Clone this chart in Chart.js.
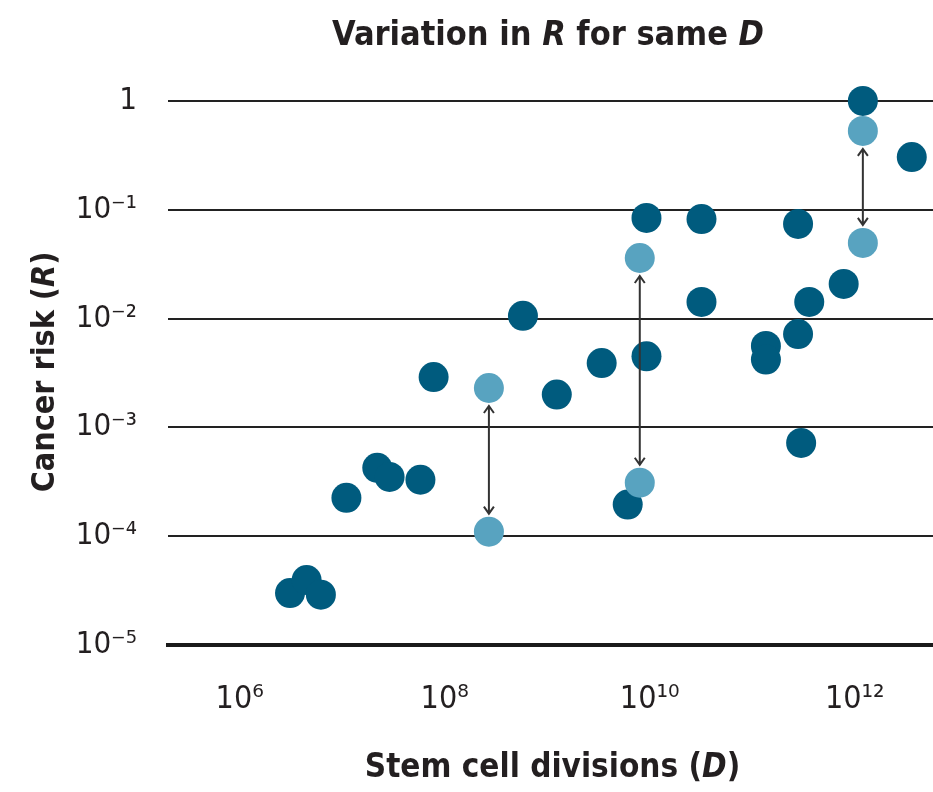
<!DOCTYPE html>
<html>
<head>
<meta charset="utf-8">
<script src="https://cdn.jsdelivr.net/npm/chart.js@4.4.0/dist/chart.umd.min.js"></script>
<style>
  html, body { margin: 0; padding: 0; background: #fff; }
  #wrap { width: 933px; height: 792px; }
</style>
</head>
<body>
<div id="wrap"><canvas id="chart" width="933" height="792"></canvas></div>
<script>
// stem cell divisions (D) and cancer risk (R) for each tissue
const tissueD = [3.1e6, 4.5e6, 6.2e6, 1.1e7, 2.2e7, 2.9e7, 5.8e7, 7.8e7, 5.8e8, 1.24e9,
                 3.4e9, 6.1e9, 9.3e9, 9.3e9, 3.2e10, 3.2e10, 1.36e11, 1.36e11, 2.8e11, 2.8e11,
                 3.0e11, 3.6e11, 7.8e11, 1.2e12, 3.6e12];
const tissueR = [3.0e-5, 3.95e-5, 2.9e-5, 2.25e-4, 4.25e-4, 3.5e-4, 3.3e-4, 2.9e-3, 1.06e-2, 2.0e-3,
                 3.9e-3, 1.95e-4, 8.4e-2, 4.5e-3, 8.2e-2, 1.42e-2, 5.6e-3, 4.2e-3, 7.4e-2, 7.2e-3,
                 7.2e-4, 1.42e-2, 2.08e-2, 1.0, 0.305];

// pairs with the same D but different R
const pairD = [2.7e8, 8.0e9, 1.2e12];
const pairHighR = [2.3e-3, 3.6e-2, 0.53];
const pairLowR = [1.1e-4, 3.1e-4, 4.95e-2];

const yTicks = [1e-5, 1e-4, 1e-3, 1e-2, 1e-1, 1];
const yTickLabels = ['10⁻⁵', '10⁻⁴', '10⁻³', '10⁻²', '10⁻¹', '1'];
const xTicks = [1e6, 1e8, 1e10, 1e12];
const xTickLabels = ['10⁶', '10⁸', '10¹⁰', '10¹²'];

const FONT = "'Liberation Sans Narrow', 'DejaVu Sans Condensed', 'Arial Narrow', sans-serif";
const TEXT = '#231f20';
const DARK = '#005b7e';
const LIGHT = '#58a3c0';
const R = 15;

const pairPoints = [];
pairD.forEach((d, i) => {
  pairPoints.push({ x: d, y: pairHighR[i] });
  pairPoints.push({ x: d, y: pairLowR[i] });
});

// draws a line of text made of plain and italic pieces, centred on (cx, cy)
function richText(ctx, parts, cx, cy, size, rotate) {
  ctx.save();
  ctx.translate(cx, cy);
  if (rotate) ctx.rotate(-Math.PI / 2);
  ctx.fillStyle = TEXT;
  ctx.textBaseline = 'middle';
  ctx.textAlign = 'left';
  let total = 0;
  const widths = parts.map(p => {
    ctx.font = (p[1] ? 'italic ' : '') + 'bold ' + size + 'px ' + FONT;
    const w = ctx.measureText(p[0]).width;
    total += w;
    return w;
  });
  let x = -total / 2;
  parts.forEach((p, i) => {
    ctx.font = (p[1] ? 'italic ' : '') + 'bold ' + size + 'px ' + FONT;
    ctx.fillText(p[0], x, 0);
    x += widths[i];
  });
  ctx.restore();
}

const textPlugin = {
  id: 'labels',
  afterDraw(chart) {
    const ctx = chart.ctx;
    const a = chart.chartArea;
    richText(ctx, [['Variation in ', false], ['R', true], [' for same ', false], ['D', true]], 548, 36, 34, false);
    richText(ctx, [['Stem cell divisions (', false], ['D', true], [')', false]], (a.left + a.right) / 2 + 2, 768, 33, false);
    richText(ctx, [['Cancer risk (', false], ['R', true], [')', false]], 46, 372, 32, true);
  }
};

const arrowPlugin = {
  id: 'arrows',
  afterDatasetsDraw(chart) {
    const ctx = chart.ctx;
    const xs = chart.scales.x, ys = chart.scales.y;
    ctx.save();
    ctx.strokeStyle = '#333';
    ctx.lineWidth = 2;
    pairD.forEach((d, i) => {
      const x = xs.getPixelForValue(d);
      const top = ys.getPixelForValue(pairHighR[i]) + R + 3;
      const bot = ys.getPixelForValue(pairLowR[i]) - R - 3;
      ctx.beginPath();
      ctx.moveTo(x, top);
      ctx.lineTo(x, bot);
      ctx.moveTo(x - 5, top + 7);
      ctx.lineTo(x, top);
      ctx.lineTo(x + 5, top + 7);
      ctx.moveTo(x - 5, bot - 7);
      ctx.lineTo(x, bot);
      ctx.lineTo(x + 5, bot - 7);
      ctx.stroke();
    });
    ctx.restore();
  }
};

new Chart(document.getElementById('chart'), {
  type: 'scatter',
  data: {
    datasets: [
      {
        label: 'Same D',
        data: pairPoints,
        backgroundColor: LIGHT,
        borderWidth: 0,
        pointRadius: R,
        pointHoverRadius: R
      },
      {
        label: 'Tissues',
        data: tissueD.map((d, i) => ({ x: d, y: tissueR[i] })),
        backgroundColor: DARK,
        borderWidth: 0,
        pointRadius: R,
        pointHoverRadius: R
      }
    ]
  },
  options: {
    responsive: false,
    animation: false,
    layout: { autoPadding: false, padding: { top: 75, left: 0, right: 0, bottom: 0 } },
    plugins: {
      legend: { display: false },
      tooltip: { enabled: false }
    },
    scales: {
      x: {
        type: 'logarithmic',
        min: 2e5,
        max: 5.8e12,
        afterBuildTicks: s => { s.ticks = xTicks.map(v => ({ value: v })); },
        afterFit: s => { s.height = 147; s.paddingLeft = 0; s.paddingRight = 0; },
        ticks: {
          autoSkip: false,
          maxRotation: 0,
          padding: 35,
          color: TEXT,
          font: { family: FONT, size: 32 },
          callback: v => xTickLabels[xTicks.indexOf(v)]
        },
        grid: { display: false, drawTicks: false },
        border: { display: true, color: '#1a1a1a', width: 4 }
      },
      y: {
        type: 'logarithmic',
        min: 1e-5,
        max: 1.73,
        afterBuildTicks: s => { s.ticks = yTicks.map(v => ({ value: v })); },
        afterFit: s => { s.width = 168; s.paddingTop = 0; s.paddingBottom = 0; },
        ticks: {
          autoSkip: false,
          padding: 31,
          color: TEXT,
          font: { family: FONT, size: 31 },
          callback: v => yTickLabels[yTicks.indexOf(v)]
        },
        grid: {
          color: '#222',
          lineWidth: c => (c.tick && c.tick.value === 1e-5 ? 4 : 2),
          drawTicks: false
        },
        border: { display: false }
      }
    }
  },
  plugins: [textPlugin, arrowPlugin]
});
</script>
</body>
</html>
